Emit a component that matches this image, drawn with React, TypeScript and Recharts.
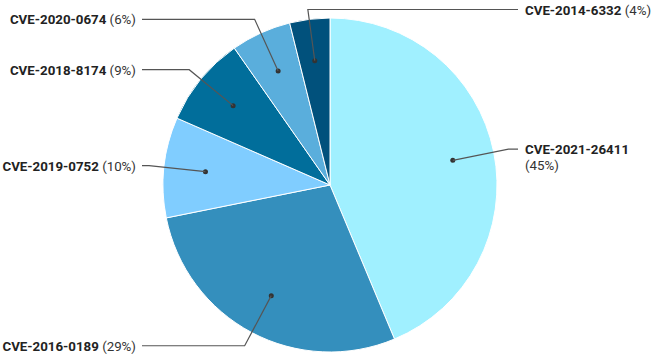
import React from "react";
import { PieChart, Pie, Cell } from "recharts";

const names = ["CVE-2021-26411", "CVE-2016-0189", "CVE-2019-0752", "CVE-2018-8174", "CVE-2020-0674", "CVE-2014-6332"];
const values = [45, 29, 10, 9, 6, 4];
const percentLabels = ["45%", "29%", "10%", "9%", "6%", "4%"];
const colors = ["#a0f0ff", "#348fbd", "#80cdff", "#016e9b", "#5aaedc", "#01517c"];

const data = names.map((name, i) => ({ name, value: values[i], pct: percentLabels[i], color: colors[i] }));

const RAD = Math.PI / 180;
const FONT = "Roboto, 'Noto Sans', sans-serif";

const renderLabel = (props: any) => {
  const { cx, cy, midAngle, outerRadius, payload } = props;
  const cos = Math.cos(-midAngle * RAD);
  const sin = Math.sin(-midAngle * RAD);
  const dx = cx + outerRadius * 0.75 * cos;
  const dy = cy + outerRadius * 0.75 * sin;
  const er = outerRadius + 15;
  const ex = cx + er * cos;
  const ey = Math.max(cy + er * sin, 9.5);
  const right = ex >= cx - 30;
  const tx = right ? 518 : 142;
  const textX = right ? 525 : 136;
  const name = payload.name;
  const pct = `(${payload.pct})`;
  const wrap = right && name.length + pct.length > 18;
  return (
    <g>
      <circle cx={dx} cy={dy} r={2.5} fill="#333" />
      <polyline points={`${dx},${dy} ${ex},${ey} ${tx},${ey}`} fill="none" stroke="#555" strokeWidth={1.2} />
      {wrap ? (
        <text x={textX} y={ey} fontFamily={FONT} fontSize={13.3} fill="#222" textAnchor="start" dominantBaseline="central">
          <tspan fontWeight="bold">{name}</tspan>
          <tspan x={textX} dy={16} fill="#333">{pct}</tspan>
        </text>
      ) : (
        <text x={textX} y={ey} fontFamily={FONT} fontSize={13.3} fill="#222" textAnchor={right ? "start" : "end"} dominantBaseline="central">
          <tspan fontWeight="bold">{name}</tspan>
          <tspan fill="#333">{" " + pct}</tspan>
        </text>
      )}
    </g>
  );
};

export default function App() {
  return (
    <div style={{ position: "absolute", left: 0, top: 0, width: 658, height: 358, background: "#fff" }}>
      <PieChart width={658} height={358} margin={{ top: 0, right: 0, bottom: 0, left: 0 }}>
        <Pie
          data={data}
          dataKey="value"
          nameKey="name"
          cx={330}
          cy={185}
          outerRadius={167}
          startAngle={90}
          endAngle={-270}
          stroke="#ffffff"
          strokeWidth={1}
          label={renderLabel}
          labelLine={false}
          isAnimationActive={false}
        >
          {data.map((d, i) => (
            <Cell key={i} fill={d.color} />
          ))}
        </Pie>
      </PieChart>
    </div>
  );
}
